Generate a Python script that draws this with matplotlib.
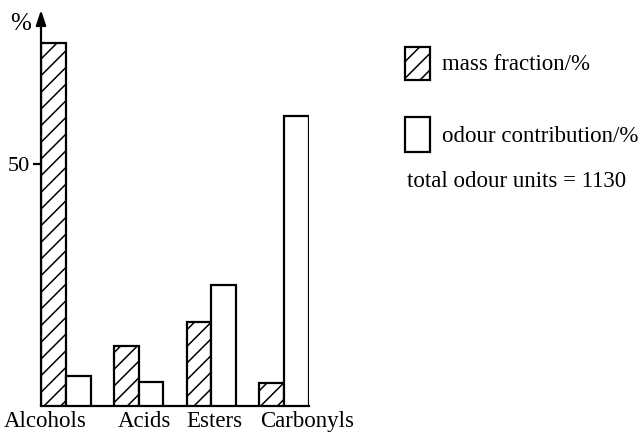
import matplotlib
matplotlib.use("Agg")
import matplotlib.pyplot as plt
import matplotlib.transforms as mtransforms
from matplotlib.patches import Rectangle
import numpy as np

plt.rcParams['font.family'] = ['Liberation Serif', 'DejaVu Serif']
plt.rcParams['hatch.linewidth'] = 1.1

categories = ["Alcohols", "Acids", "Esters", "Carbonyls"]
mass_fraction = [75, 12.4, 17.4, 4.7]
odour_contribution = [6.2, 5, 25, 60]
yticks = [50]
series_labels = ["mass fraction/%", "odour contribution/%"]
note = "total odour units = 1130"

W, H = 642, 432
fig = plt.figure(figsize=(W / 100, H / 100), dpi=100)

# axes in pixel geometry
ax_left, ax_right = 41, 309
ax_bottom_px = 406            # from top
ymax = 80
px_per_unit = 4.84
ax_top_px = ax_bottom_px - ymax * px_per_unit
ax = fig.add_axes([ax_left / W, (H - ax_bottom_px) / H,
                   (ax_right - ax_left) / W, (ax_bottom_px - ax_top_px) / H])

w = 0.34
x = np.arange(len(categories))
lw = 1.6
ax.bar(x - w / 2, mass_fraction, width=w, facecolor='white', edgecolor='black',
       linewidth=lw, hatch='//', zorder=3)
ax.bar(x + w / 2, odour_contribution, width=w, facecolor='white', edgecolor='black',
       linewidth=lw, zorder=3)

ax.set_xlim(-w, len(categories) - 1 + w)
ax.set_ylim(0, ymax)

for s in ['top', 'right', 'left']:
    ax.spines[s].set_visible(False)
ax.spines['bottom'].set_linewidth(lw)

# y axis with arrow
tip = (ax_bottom_px - 10) / (ax_bottom_px - ax_top_px)
ax.annotate('', xy=(0, tip), xycoords='axes fraction', xytext=(0, 0),
            textcoords='axes fraction',
            arrowprops=dict(arrowstyle='-|>,head_length=0.9,head_width=0.3',
                            color='black', lw=lw, shrinkA=0, shrinkB=0),
            annotation_clip=False)

ax.set_yticks(yticks)
ax.set_yticklabels([str(v) for v in yticks])
ax.tick_params(axis='y', direction='out', length=6, width=lw, pad=2, labelsize=16)

ax.set_xticks(x)
ax.set_xticklabels(categories)
ax.tick_params(axis='x', length=0, pad=3.5, labelsize=16.5)
offsets_px = [-21, 6, 3, 23]
for lab, dx in zip(ax.get_xticklabels(), offsets_px):
    lab.set_transform(lab.get_transform() +
                      mtransforms.ScaledTranslation(dx / 100, 0, fig.dpi_scale_trans))

# "%" axis label
fig.text(21 / W, 1 - 24 / H, '%', ha='center', va='center', fontsize=18)

# legend
def fy(py):
    return 1 - py / H

fig.add_artist(Rectangle((405 / W, fy(80)), 25 / W, 33 / H, transform=fig.transFigure,
                         facecolor='white', edgecolor='black', linewidth=lw, hatch='//'))
fig.add_artist(Rectangle((405 / W, fy(152)), 25 / W, 35 / H, transform=fig.transFigure,
                         facecolor='white', edgecolor='black', linewidth=lw))
fig.text(442 / W, fy(70), series_labels[0], ha='left', va='baseline', fontsize=16.5)
fig.text(442 / W, fy(142), series_labels[1], ha='left', va='baseline', fontsize=16.5)
fig.text(407 / W, fy(187), note, ha='left', va='baseline', fontsize=16.5)

fig.savefig('out.png', dpi=100, facecolor='white')
